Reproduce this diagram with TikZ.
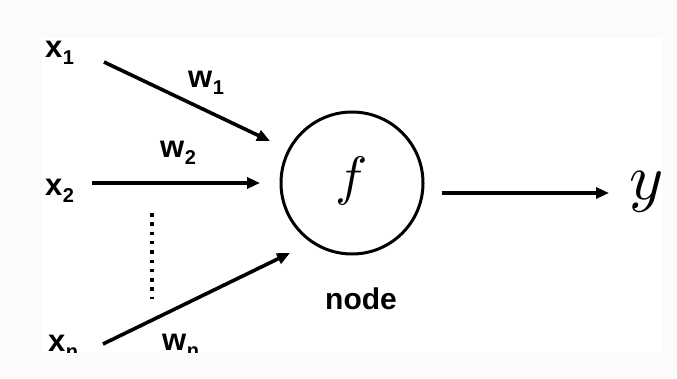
\documentclass[tikz,border=0pt]{standalone}
\usepackage{graphicx}
\usepackage{fontspec}
\setmainfont{Liberation Sans}
\usetikzlibrary{arrows.meta}
\definecolor{paper}{HTML}{FBFBFB}
% bold label with a lowered small index
\newcommand{\idx}[2]{\textbf{#1}\kern0.5pt\raisebox{-7pt}{\fontsize{20}{20}\selectfont\bfseries #2}}
\begin{document}
\begin{tikzpicture}[x=1pt,y=-1pt,
  wire/.style={line width=3.6pt,-{Triangle[length=13pt,width=11pt]}},
  lab/.style={inner sep=0pt,anchor=base west,font=\fontsize{31}{31}\selectfont},
  unit/.style={draw,circle,line width=3pt,minimum size=142pt,inner sep=0pt}]
  % page and light panel
  \fill[paper] (0,0) rectangle (677,378);
  \fill[white] (42,38) rectangle (663,352);
  \useasboundingbox (0,0) rectangle (677,378);

  % neuron body
  \node[unit] (nd) at (352,183) {};
  \node[inner sep=0pt] (fn) at (352,181) {\scalebox{5.4}{$f$}};
  \node[inner sep=0pt,anchor=base,font=\fontsize{30}{30}\selectfont\bfseries] (nl) at (361,309) {node};

  % inputs and weights
  \node[lab] (x1) at (45,57) {\idx{x}{1}};
  \node[lab] (w1) at (188,87) {\idx{w}{1}};
  \node[lab] (x2) at (45,195) {\idx{x}{2}};
  \node[lab] (w2) at (160,157) {\idx{w}{2}};
  \begin{scope}
    \clip (0,0) rectangle (677,352);
    \node[lab] (xn) at (48,351) {\idx{x}{n}};
    \node[lab] (wn) at (162,350) {\idx{w}{n}};
  \end{scope}

  % connector end points
  \coordinate (s1) at (104,62);
  \coordinate (t1) at (270,141);
  \coordinate (s2) at (92,183);
  \coordinate (t2) at (260,183);
  \coordinate (sn) at (103,344);
  \coordinate (tn) at (290,253);
  \coordinate (so) at (442,193);
  \coordinate (to) at (609,193);
  \coordinate (d1) at (152,213);
  \coordinate (d2) at (152,299);

  \draw[wire] (s1) -- (t1);
  \draw[wire] (s2) -- (t2);
  \draw[wire] (sn) -- (tn);
  \draw[wire] (so) -- (to);
  \draw[line width=3.5pt,dash pattern=on 3.5pt off 5.8pt] (d1) -- (d2);

  % output
  \node[inner sep=0pt] (yo) at (647,192) {\scalebox{6.5}{$y$}};
\end{tikzpicture}
\end{document}
